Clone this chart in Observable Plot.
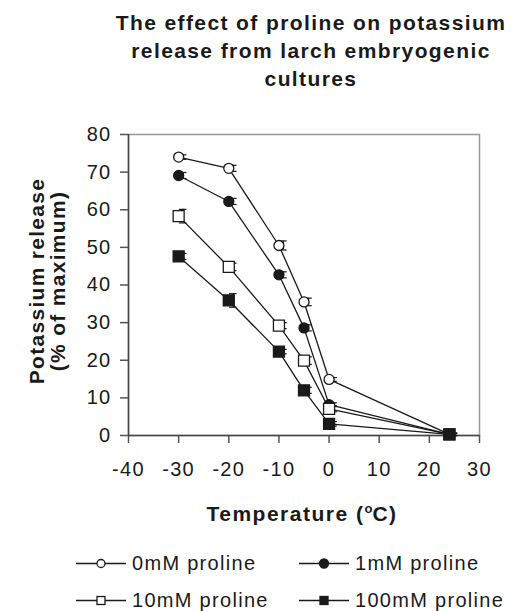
<!DOCTYPE html>
<html>
<head>
<meta charset="utf-8">
<script src="https://cdn.jsdelivr.net/npm/d3@7"></script>
<script src="https://cdn.jsdelivr.net/npm/@observablehq/plot@0.6"></script>
<style>
  html, body { margin: 0; padding: 0; background: #fff; }
  body { font-family: "Liberation Sans", Arial, sans-serif; color: #1a1a1a; }
  #wrap { position: relative; width: 513px; height: 611px; overflow: hidden; background: #fff; }
  #title { position: absolute; left: 111px; width: 400px; top: 9px; text-align: center; z-index: 2;
    font-weight: bold; font-size: 21px; line-height: 28px; letter-spacing: 1.4px; }
  #ytitle { position: absolute; left: 47px; top: 281px; width: 260px; z-index: 2;
    transform: translate(-50%, -50%) rotate(-90deg); text-align: center;
    font-weight: bold; font-size: 21px; line-height: 21px; letter-spacing: 1.3px; white-space: nowrap; }
  #xtitle { position: absolute; left: 302px; top: 513px; transform: translate(-50%, -50%); z-index: 2;
    font-weight: bold; font-size: 21px; letter-spacing: 1.5px; white-space: nowrap; }
  #chart { position: absolute; left: 0; top: 100px; z-index: 1; }
  #chart svg { background: transparent !important; }
  #chart svg text { letter-spacing: 1.3px; }
  .leg { position: absolute; display: flex; align-items: center; font-size: 20px; letter-spacing: 1.3px; white-space: nowrap; transform: translateY(-50%); z-index: 2; }
  .leg svg { margin-right: 6px; }
</style>
</head>
<body>
<div id="wrap">
  <div id="title">The effect of proline on potassium<br>release from larch embryogenic<br>cultures</div>
  <div id="chart"></div>
  <div id="ytitle">Potassium release<br>(% of maximum)</div>
  <div id="xtitle">Temperature (<sup style="font-size:13px;letter-spacing:0">o</sup>C)</div>
</div>
<script>
// ---- data ----
const temps = [-30, -20, -10, -5, 0, 24];
const seriesNames = ["0mM proline", "1mM proline", "10mM proline", "100mM proline"];
const p0   = [74.0, 71.0, 50.5, 35.5, 14.9, 0.3];
const p1   = [69.1, 62.2, 42.7, 28.6, 8.2, 0.3];
const p10  = [58.3, 44.8, 29.2, 19.9, 7.1, 0.3];
const p100 = [47.6, 35.9, 22.3, 12.0, 3.1, 0.3];
const e0   = [0.6, 0.8, 1.2, 1.0, 0.5, 0.3];
const e1   = [0.8, 0.8, 0.8, 0.8, 0.5, 0.3];
const e10  = [1.8, 1.0, 0.8, 1.0, 0.8, 0.3];
const e100 = [0.8, 1.8, 0.6, 0.8, 0.6, 0.3];
const xTicks = [-40, -30, -20, -10, 0, 10, 20, 30];
const yTicks = [0, 10, 20, 30, 40, 50, 60, 70, 80];

const symbols = {"0mM proline": ["circle", false], "1mM proline": ["circle", true],
                 "10mM proline": ["square", false], "100mM proline": ["square", true]};

const vals = [p0, p1, p10, p100];
const errs = [e0, e1, e10, e100];
const data = [];
seriesNames.forEach((s, i) => temps.forEach((t, j) => data.push({series: s, x: t, y: vals[i][j], e: errs[i][j]})));

const ink = "#1a1a1a";
const markFor = (s) => {
  const [sym, filled] = symbols[s];
  return Plot.dot(data.filter(d => d.series === s), {
    x: "x", y: "y", symbol: sym, r: sym === "circle" ? 5 : 6.2,
    fill: filled ? ink : "white", stroke: ink, strokeWidth: 1.3
  });
};

const chart = Plot.plot({
  width: 513, height: 400,
  marginLeft: 128, marginRight: 34, marginTop: 34, marginBottom: 65,
  style: {fontFamily: "'Liberation Sans', Arial, sans-serif", fontSize: "20px", color: ink, background: "transparent"},
  x: {domain: [-40, 30]},
  y: {domain: [0, 80]},
  marks: [
    Plot.frame({stroke: "#999", strokeWidth: 1.5}),
    Plot.axisX({ticks: xTicks, tickSize: 8, tickPadding: 18, tickFormat: d => String(d), label: null, stroke: "#555", strokeWidth: 1.5, fontSize: 20}),
    Plot.axisY({ticks: yTicks, tickSize: 8, tickPadding: 9, tickFormat: d => String(d), label: null, stroke: "#555", strokeWidth: 1.5, fontSize: 20}),
    Plot.ruleY([0], {stroke: "#444", strokeWidth: 1.5}),
    Plot.ruleX([-40], {stroke: "#444", strokeWidth: 1.5}),
    Plot.line(data, {x: "x", y: "y", z: "series", stroke: ink, strokeWidth: 1.3}),
    // error bars
    Plot.ruleX(data, {x: "x", y1: d => d.y - d.e, y2: d => d.y + d.e, dx: 4.5, stroke: ink, strokeWidth: 1.2}),
    Plot.ruleY(data, {y: d => d.y + d.e, x1: d => d.x + 0.15, x2: d => d.x + 1.65, stroke: ink, strokeWidth: 1.2}),
    Plot.ruleY(data, {y: d => d.y - d.e, x1: d => d.x + 0.15, x2: d => d.x + 1.65, stroke: ink, strokeWidth: 1.2}),
    ...seriesNames.map(markFor)
  ]
});
document.getElementById("chart").appendChild(chart);

// ---- legend ----
const legPos = [[76, 563], [299, 563], [76, 600], [299, 600]];
const wrap = document.getElementById("wrap");
seriesNames.forEach((s, i) => {
  const [sym, filled] = symbols[s];
  const div = document.createElement("div");
  div.className = "leg";
  div.style.left = legPos[i][0] + "px";
  div.style.top = legPos[i][1] + "px";
  const svg = d3.create("svg").attr("width", 50).attr("height", 14);
  svg.append("line").attr("x1", 0).attr("x2", 50).attr("y1", 7).attr("y2", 7).attr("stroke", ink).attr("stroke-width", 1.3);
  if (sym === "circle") {
    svg.append("circle").attr("cx", 25).attr("cy", 7).attr("r", filled ? 4.5 : 4)
      .attr("fill", filled ? ink : "white").attr("stroke", ink).attr("stroke-width", 1.3);
  } else {
    svg.append("rect").attr("x", 21).attr("y", 3).attr("width", 8).attr("height", 8)
      .attr("fill", filled ? ink : "white").attr("stroke", ink).attr("stroke-width", 1.3);
  }
  div.appendChild(svg.node());
  const span = document.createElement("span");
  span.textContent = s;
  div.appendChild(span);
  wrap.appendChild(div);
});
</script>
</body>
</html>
